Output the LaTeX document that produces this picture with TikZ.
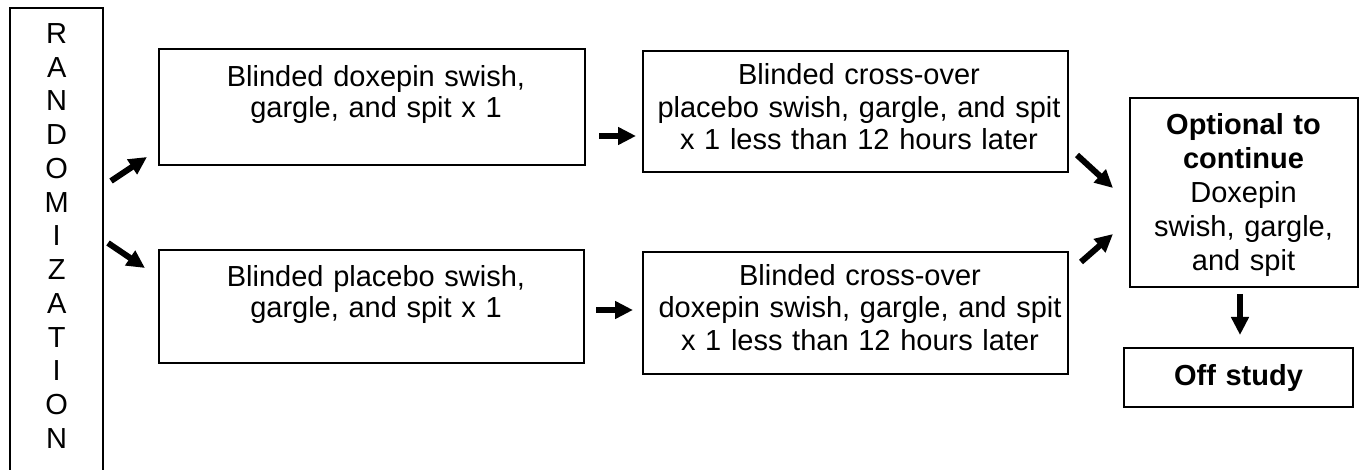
\documentclass[tikz,border=0pt]{standalone}
\usepackage{fontspec}
\setmainfont{Liberation Sans}
\usetikzlibrary{arrows.meta}
\tikzset{
  boxst/.style={draw=black, line width=1.8pt, inner sep=0pt, outer sep=0pt},
  txt/.style={align=center, text width=420pt, inner sep=0pt, anchor=base},
  arr/.style={line width=6pt, -{Triangle[length=18pt,width=17pt]}}
}
\begin{document}
\begin{tikzpicture}[x=1pt,y=-1pt]
\useasboundingbox (0,0) rectangle (1360,470);
% boxes
\node[boxst, minimum width=93pt, minimum height=472pt] (rand) at (56.5,244) {};
\node[boxst, minimum width=426pt, minimum height=116pt] (b1) at (372,107) {};
\node[boxst, minimum width=425pt, minimum height=113pt] (b2) at (371.5,306.5) {};
\node[boxst, minimum width=425pt, minimum height=121pt] (b3) at (855.5,111.5) {};
\node[boxst, minimum width=425pt, minimum height=122pt] (b4) at (855.5,313) {};
\node[boxst, minimum width=228pt, minimum height=189pt] (opt) at (1244,192.5) {};
\node[boxst, minimum width=229pt, minimum height=59pt] (off) at (1238.5,377.5) {};
% texts
\node[txt, text width=80pt, font=\fontsize{29}{33.75}\selectfont] (randt) at (56.7,43.5)
  {R\\A\\N\\D\\O\\M\\I\\Z\\A\\T\\I\\O\\N};
\node[txt, font=\fontsize{29}{30.6}\selectfont] (t1) at (376,86.7)
  {Blinded doxepin swish,\\gargle, and spit x 1};
\node[txt, font=\fontsize{29}{30.6}\selectfont] (t2) at (376,286.7)
  {Blinded placebo swish,\\gargle, and spit x 1};
\node[txt, font=\fontsize{29}{32.5}\selectfont] (t3) at (859,85)
  {Blinded cross-over\\placebo swish, gargle, and spit\\x 1 less than 12 hours later};
\node[txt, font=\fontsize{29}{32.2}\selectfont] (t4) at (860,285.7)
  {Blinded cross-over\\doxepin swish, gargle, and spit\\x 1 less than 12 hours later};
\node[txt, text width=220pt, font=\fontsize{29}{34}\selectfont] (optt) at (1243.5,135)
  {\textbf{Optional to}\\\textbf{continue}\\Doxepin\\swish, gargle,\\and spit};
\node[txt, text width=220pt, font=\fontsize{29}{34}\selectfont\bfseries] (offt) at (1238.5,385)
  {Off study};
% arrow end points
\coordinate (a1s) at (111,181); \coordinate (a1e) at (147,157);
\coordinate (a2s) at (108,243); \coordinate (a2e) at (145,268);
\coordinate (a3s) at (599,136); \coordinate (a3e) at (636,136);
\coordinate (a4s) at (596,310); \coordinate (a4e) at (633,310);
\coordinate (a5s) at (1077,155); \coordinate (a5e) at (1113,188);
\coordinate (a6s) at (1081,262); \coordinate (a6e) at (1113,234);
\coordinate (a7s) at (1240,294); \coordinate (a7e) at (1240,335);
\draw[arr] (a1s) -- (a1e);
\draw[arr] (a2s) -- (a2e);
\draw[arr] (a3s) -- (a3e);
\draw[arr] (a4s) -- (a4e);
\draw[arr] (a5s) -- (a5e);
\draw[arr] (a6s) -- (a6e);
\draw[arr] (a7s) -- (a7e);
\end{tikzpicture}
\end{document}
